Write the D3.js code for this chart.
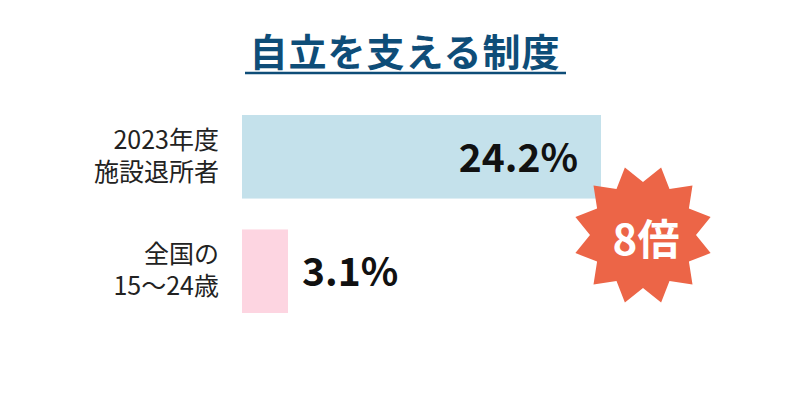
<!DOCTYPE html>
<html><head><meta charset="utf-8">
<script src="https://cdn.jsdelivr.net/npm/d3@7"></script>
<style>body{margin:0;background:#fff}svg{display:block}</style>
</head><body>
<svg id="c" width="800" height="400"></svg>
<script>
const title = "自立を支える制度";
const categories = [["2023年度","施設退所者"],["全国の","15〜24歳"]];
const values = [24.2, 3.1];
const valueLabels = ["24.2%","3.1%"];
const colors = ["#c4e1eb","#fdd5e1"];
const ratioLabel = "8倍";

const svg = d3.select("#c");
const font = "'Noto Sans CJK JP','Noto Sans',sans-serif";

const x = d3.scaleLinear().domain([0, 24.2]).range([242, 601]);
const y = d3.scaleBand().domain(d3.range(values.length)).range([115, 313]).paddingInner(0.27).paddingOuter(0);

// title
svg.append("text").attr("x", 405).attr("y", 66).attr("text-anchor","middle")
  .attr("font-family", font).attr("font-weight", 700).attr("font-size", 38)
  .attr("letter-spacing", 1)
  .attr("fill", "#0e4d78").text(title);
svg.append("line").attr("x1",245).attr("x2",566).attr("y1",73).attr("y2",73)
  .attr("stroke","#0e4d78").attr("stroke-width",2.5);

// bars
svg.selectAll("rect.bar").data(values).join("rect").attr("class","bar")
  .attr("x", x(0)).attr("y", (d,i)=>y(i)).attr("width", d=>x(d)-x(0)).attr("height", y.bandwidth())
  .attr("fill", (d,i)=>colors[i]);

// category labels
categories.forEach((lines,i)=>{
  const cy = y(i) + y.bandwidth()/2;
  const tx = svg.append("text").attr("text-anchor","end").attr("font-family",font)
    .attr("font-size",25).attr("fill","#222");
  lines.forEach((l,j)=>{
    tx.append("tspan").attr("x",219).attr("y", cy - 8 + j*32).text(l);
  });
});

// value labels
values.forEach((v,i)=>{
  const cy = y(i) + y.bandwidth()/2;
  const inside = i===0;
  svg.append("text")
    .attr("x", inside ? x(v)-23 : x(v)+14)
    .attr("y", cy + 15)
    .attr("text-anchor", inside ? "end" : "start")
    .attr("font-family", font).attr("font-weight",700).attr("font-size",39)
    .attr("fill","#111").text(valueLabels[i]);
});

// starburst
const cx = 643, cyS = 235, R = 70, r = 53, n = 12;
const pts = [];
for (let k=0;k<n*2;k++){
  const a = (k*Math.PI/n) - Math.PI/2 + Math.PI/12;
  const rad = k%2===0 ? R : r;
  pts.push([cx + rad*Math.cos(a), cyS + rad*Math.sin(a)]);
}
svg.append("path").attr("d", d3.line()(pts)+"Z").attr("fill","#ec6547");
svg.append("text").attr("x",cx+3).attr("y",cyS+20).attr("text-anchor","middle")
  .attr("font-family",font).attr("font-weight",700).attr("font-size",42)
  .attr("fill","#fff").text(ratioLabel);
</script>
</body></html>
